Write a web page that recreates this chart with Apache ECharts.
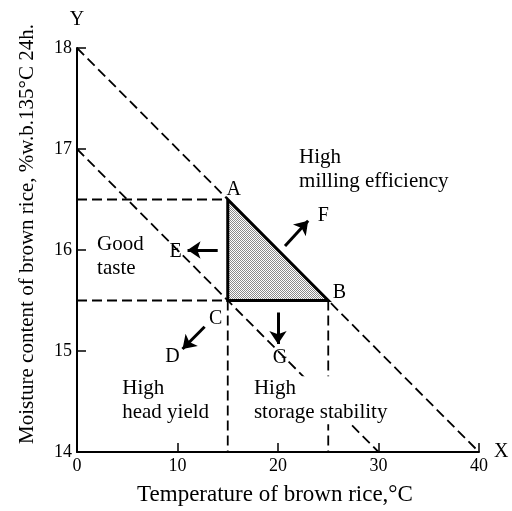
<!DOCTYPE html>
<html>
<head>
<meta charset="utf-8">
<script src="https://cdn.jsdelivr.net/npm/echarts@6/dist/echarts.min.js"></script>
<style>
  html, body { margin: 0; padding: 0; background: #fff; }
  #chart { width: 512px; height: 511px; }
</style>
</head>
<body>
<div id="chart"></div>
<script>
// axis ticks
const xTicks = [0, 10, 20, 30, 40];
const yTicks = [14, 15, 16, 17, 18];

// dashed guide lines, [x, y] pairs
const upperLine = [[0, 18], [40, 14]];
const lowerLine = [[0, 17], [30, 14]];
const guideA = [[0, 16.5], [15, 16.5]];
const guideC = [[0, 15.5], [15, 15.5]];
const dropC = [[15, 15.5], [15, 14]];
const dropB = [[25, 15.5], [25, 14]];

// the shaded region A-B-C
const triangle = [[15, 16.5], [25, 15.5], [15, 15.5]];

// arrows: from -> to
const arrows = [
  [[14, 16], [11, 16]],          // E
  [[20.7, 16.04], [23, 16.29]],  // F
  [[20, 15.38], [20, 15.07]],    // G
  [[12.7, 15.24], [10.5, 15.02]] // D
];

// point letters
const letters = [
  ['A', 15.6, 16.6], ['B', 26.1, 15.58], ['C', 13.8, 15.32],
  ['D', 9.5, 14.94], ['E', 9.8, 15.98], ['F', 24.5, 16.34], ['G', 20.2, 14.93]
];

// region texts: left edge, centre of first line
const regions = [
  ['High\nmilling efficiency', 22.1, 16.92],
  ['Good\ntaste', 2.0, 16.05],
  ['High\nhead yield', 4.5, 14.63],
  ['High\nstorage stability', 17.6, 14.63]
];

const FONT = '"Liberation Serif", "DejaVu Serif", serif';

function dashed(data) {
  return {
    type: 'line', data: data, symbol: 'none', silent: true,
    lineStyle: { color: '#000', width: 1.8, type: [10, 5] }, z: 3
  };
}

// stipple for the shaded triangle
const dots = document.createElement('canvas');
dots.width = 2; dots.height = 2;
const dctx = dots.getContext('2d');
dctx.fillStyle = '#fff'; dctx.fillRect(0, 0, 2, 2);
dctx.fillStyle = '#8a8a8a'; dctx.fillRect(0, 0, 1, 1); dctx.fillRect(1, 1, 1, 1);

const chart = echarts.init(document.getElementById('chart'));
chart.setOption({
  animation: false,
  grid: { left: 77, right: 33, top: 48, bottom: 59 },
  xAxis: {
    type: 'value', min: 0, max: 40, interval: 10,
    name: 'X', nameLocation: 'end', nameGap: 10,
    nameTextStyle: { fontFamily: FONT, fontSize: 20, color: '#000' },
    axisLine: { lineStyle: { color: '#000', width: 2 } },
    axisTick: { inside: true, length: 9, lineStyle: { color: '#000', width: 1.5 } },
    axisLabel: { fontFamily: FONT, fontSize: 18, color: '#000', margin: 5,
      formatter: v => xTicks.includes(v) ? String(v) : '' },
    splitLine: { show: false }
  },
  yAxis: {
    type: 'value', min: 14, max: 18, interval: 1,
    name: 'Y', nameLocation: 'end', nameGap: 18,
    nameTextStyle: { fontFamily: FONT, fontSize: 20, color: '#000' },
    axisLine: { lineStyle: { color: '#000', width: 2 } },
    axisTick: { inside: true, length: 9, lineStyle: { color: '#000', width: 1.5 } },
    axisLabel: { fontFamily: FONT, fontSize: 18, color: '#000', margin: 5,
      formatter: v => yTicks.includes(v) ? String(v) : '' },
    splitLine: { show: false }
  },
  graphic: [
    {
      type: 'text', x: 27, y: 234, rotation: Math.PI / 2,
      style: {
        text: 'Moisture content of brown rice, %w.b.135°C 24h.',
        font: '21px ' + FONT, fill: '#000', align: 'center', verticalAlign: 'middle'
      }
    },
    {
      type: 'text', x: 275, y: 495,
      style: {
        text: 'Temperature of brown rice,°C',
        font: '23px ' + FONT, fill: '#000', align: 'center', verticalAlign: 'middle'
      }
    }
  ],
  series: [
    dashed(upperLine), dashed(lowerLine), dashed(guideA),
    dashed(guideC), dashed(dropC), dashed(dropB),
    {
      type: 'custom', silent: true, z: 4,
      data: [0],
      renderItem: function (params, api) {
        const pts = triangle.map(p => api.coord(p));
        return {
          type: 'polygon',
          shape: { points: pts },
          style: {
            fill: { image: dots, repeat: 'repeat' },
            stroke: '#000', lineWidth: 3, lineJoin: 'miter'
          }
        };
      }
    },
    {
      type: 'lines', coordinateSystem: 'cartesian2d', silent: true, z: 5,
      symbol: ['none', 'arrow'], symbolSize: [11, 13],
      lineStyle: { color: '#000', width: 3, opacity: 1 },
      data: arrows.map(a => ({ coords: a }))
    },
    {
      type: 'scatter', symbolSize: 0, silent: true, z: 6,
      itemStyle: { opacity: 1 },
      data: letters.map(l => ({ value: [l[1], l[2]], name: l[0] })),
      label: {
        show: true, position: 'inside', formatter: '{b}',
        fontFamily: FONT, fontSize: 20, color: '#000'
      }
    },
    {
      type: 'scatter', symbolSize: 0, silent: true, z: 6,
      itemStyle: { opacity: 1 },
      data: regions.map(r => ({ value: [r[1], r[2]], name: r[0] })),
      label: {
        show: true, position: 'right', distance: 0, formatter: '{b}',
        align: 'left', verticalAlign: 'top', offset: [0, -12],
        fontFamily: FONT, fontSize: 21, lineHeight: 24, color: '#000',
        backgroundColor: '#fff'
      }
    }
  ]
});
</script>
</body>
</html>
